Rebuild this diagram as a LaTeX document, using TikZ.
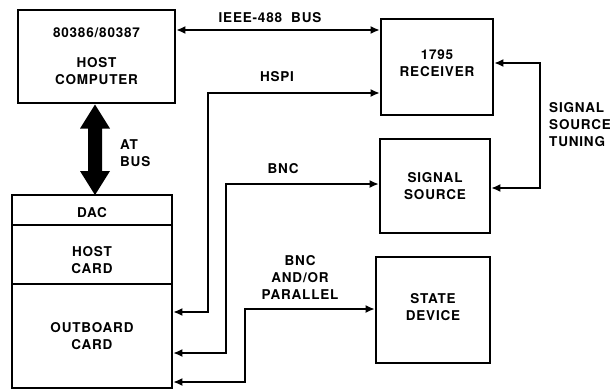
\documentclass[tikz,border=0pt]{standalone}
\usepackage{fontspec}
\setmainfont[LetterSpace=6]{TeX Gyre Heros}
\usetikzlibrary{arrows.meta,calc}
\begin{document}
\begin{tikzpicture}[x=1pt,y=-1pt,
  box/.style={draw,line width=2.8pt,minimum width=#1,inner sep=0pt},
  lbl/.style={font=\fontsize{13.5}{17}\selectfont\bfseries,inner sep=0pt,align=center},
  conn/.style={line width=1.3pt,{Latex[length=9pt,width=8pt]}-{Latex[length=9pt,width=8pt]}}
]
\useasboundingbox (0,0) rectangle (610,391);
% boxes
\node[box=157pt,minimum height=93pt] (host) at (96.5,56.5) {};
\node[box=112pt,minimum height=96pt] (rec) at (437,67) {};
\node[box=110pt,minimum height=94pt] (sig) at (435,186) {};
\node[box=114pt,minimum height=106pt] (state) at (433,310) {};
\node[box=160pt,minimum height=30pt] (dac) at (92,210) {};
\node[box=160pt,minimum height=59pt] (hcard) at (92,254.5) {};
\node[box=160pt,minimum height=104pt] (out) at (92,336) {};
% box texts
\node[lbl] (t1) at (96.5,33) {80386/80387};
\node[lbl] (t2) at (96.5,71) {HOST\\COMPUTER};
\node[lbl] (t3) at (437,63) {1795\\RECEIVER};
\node[lbl] (t4) at (435,186) {SIGNAL\\SOURCE};
\node[lbl] (t5) at (433,307) {STATE\\DEVICE};
\node[lbl] (t6) at (92,213) {DAC};
\node[lbl] (t7) at (92,260) {HOST\\CARD};
\node[lbl] (t8) at (92,336) {OUTBOARD\\CARD};
% AT bus double arrow
\coordinate (ta) at (95,104.5);
\coordinate (tb) at (95,195);
\fill ($(ta)$) -- ($(ta)+(15,24)$) -- ($(ta)+(7,24)$) -- ($(tb)+(7,-24)$) -- ($(tb)+(15,-24)$) -- (tb)
  -- ($(tb)+(-15,-24)$) -- ($(tb)+(-7,-24)$) -- ($(ta)+(-7,24)$) -- ($(ta)+(-15,24)$) -- cycle;
\node[lbl,align=left,anchor=west] (atbus) at (120,153) {AT\\BUS};
% connectors
\draw[conn] (host.east |- 0,30) -- (rec.west |- 0,30);
\node[lbl] (ieee) at (270,18) {IEEE-488\ \ BUS};
\coordinate (h1) at (208,312);
\coordinate (h2) at (208,93);
\draw[conn] (out.east |- h1) -- (h1) -- (h2) -- (rec.west |- h2);
\node[lbl] (hspi) at (277,77) {HSPI};
\coordinate (b1) at (226,353);
\coordinate (b2) at (226,184);
\draw[conn] (out.east |- b1) -- (b1) -- (b2) -- (sig.west |- b2);
\node[lbl] (bnc) at (283,169) {BNC};
\coordinate (p1) at (245,382);
\coordinate (p2) at (245,309);
\draw[conn] (out.east |- p1) -- (p1) -- (p2) -- (state.west |- p2);
\node[lbl] (par) at (300,277) {BNC\\AND/OR\\PARALLEL};
\coordinate (s1) at (540,63);
\coordinate (s2) at (540,188);
\draw[conn] (rec.east |- s1) -- (s1) -- (s2) -- (sig.east |- s2);
\node[lbl,align=left,anchor=west] (tun) at (549,125) {SIGNAL\\SOURCE\\TUNING};
\end{tikzpicture}
\end{document}
